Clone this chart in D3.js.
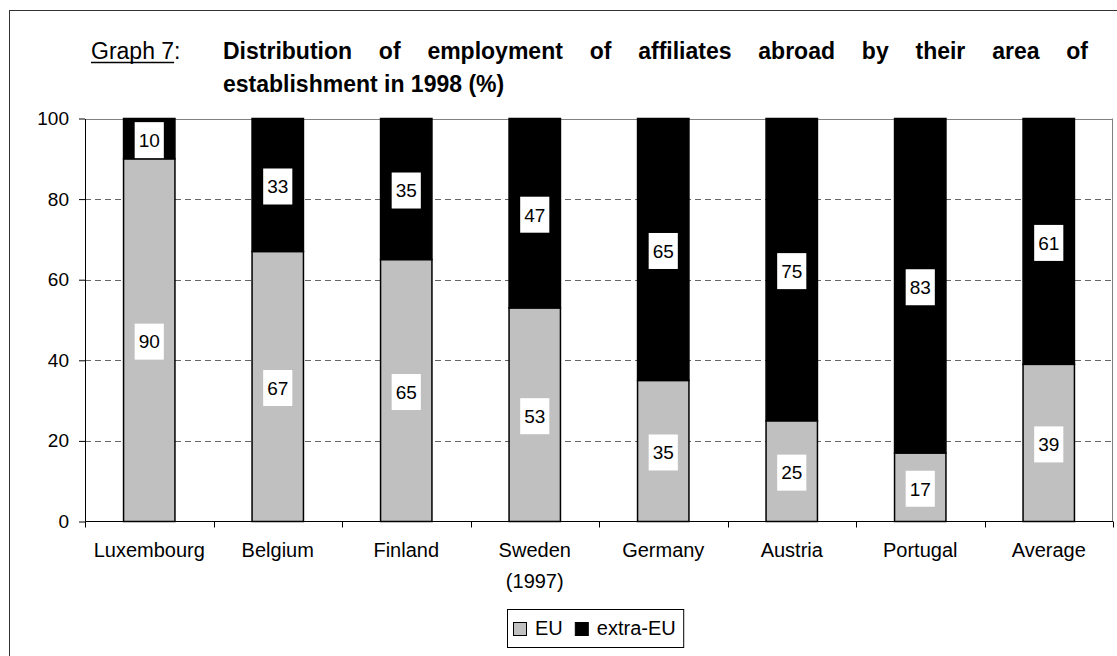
<!DOCTYPE html>
<html>
<head>
<meta charset="utf-8">
<script src="https://cdn.jsdelivr.net/npm/d3@7"></script>
<style>
  body { margin: 0; background: #fff; }
  svg { display: block; font-family: "Liberation Sans", Arial, sans-serif; }
</style>
</head>
<body>
<svg id="chart" width="1117" height="656"></svg>
<script>
// Employment of foreign affiliates by area of establishment, 1998 (%)
const categories = ["Luxembourg", "Belgium", "Finland", "Sweden (1997)", "Germany", "Austria", "Portugal", "Average"];
const euShare = [90, 67, 65, 53, 35, 25, 17, 39];
const extraEuShare = [10, 33, 35, 47, 65, 75, 83, 61];
const yTicks = [0, 20, 40, 60, 80, 100];
const seriesNames = ["EU", "extra-EU"];
const seriesColors = ["#c0c0c0", "#000000"];
const titleLabel = "Graph 7";
const titleLine1 = "Distribution of employment of affiliates abroad by their area of";
const titleLine2 = "establishment in 1998 (%)";

const svg = d3.select("#chart");

// outer frame
svg.append("rect")
  .attr("x", 9.5).attr("y", 10.5)
  .attr("width", 1300).attr("height", 800)
  .attr("fill", "none").attr("stroke", "#333").attr("stroke-width", 1);

const plot = { left: 85, right: 1113, top: 118.5, bottom: 521.5 };

const x = d3.scaleBand()
  .domain(categories)
  .range([plot.left, plot.right])
  .paddingInner(0.6)
  .paddingOuter(0.3);

const y = d3.scaleLinear()
  .domain([0, 100])
  .range([plot.bottom, plot.top]);

// gridlines
svg.append("g")
  .selectAll("line")
  .data(yTicks.filter(t => t > 0))
  .join("line")
  .attr("x1", plot.left).attr("x2", plot.right)
  .attr("y1", d => Math.round(y(d)) + 0.5).attr("y2", d => Math.round(y(d)) + 0.5)
  .attr("stroke", d => d === 100 ? "#808080" : "#666")
  .attr("stroke-width", 1)
  .attr("stroke-dasharray", d => d === 100 ? null : "6,4");

// right border of plot area
svg.append("line")
  .attr("x1", plot.right - 0.5).attr("x2", plot.right - 0.5)
  .attr("y1", y(100)).attr("y2", y(0))
  .attr("stroke", "#808080").attr("stroke-width", 1);

// stacked bars
const rows = categories.map((c, i) => ({ category: c, EU: euShare[i], "extra-EU": extraEuShare[i] }));
const stacked = d3.stack().keys(seriesNames)(rows);

const layers = svg.append("g")
  .selectAll("g")
  .data(stacked)
  .join("g")
  .attr("fill", (d, i) => seriesColors[i]);

layers.selectAll("rect")
  .data(d => d)
  .join("rect")
  .attr("x", d => x(d.data.category))
  .attr("y", d => y(d[1]))
  .attr("width", x.bandwidth())
  .attr("height", d => y(d[0]) - y(d[1]))
  .attr("stroke", "#000")
  .attr("stroke-width", 1.5);

// value labels in white boxes
const labelFont = 19;
const labelGroup = svg.append("g");
stacked.forEach(layer => {
  layer.forEach(d => {
    const value = d[1] - d[0];
    const cx = x(d.data.category) + x.bandwidth() / 2;
    const cy = (y(d[0]) + y(d[1])) / 2 + 1.5;
    const g = labelGroup.append("g");
    const box = g.append("rect").attr("fill", "#fff");
    const t = g.append("text")
      .attr("x", cx).attr("y", cy + labelFont * 0.36)
      .attr("text-anchor", "middle")
      .attr("font-size", labelFont)
      .attr("fill", "#000")
      .text(value);
    const w = t.node().getComputedTextLength() + 8;
    const h = 36;
    box.attr("x", cx - w / 2).attr("y", cy - h / 2).attr("width", w).attr("height", h);
  });
});

// y axis
const yAxis = svg.append("g")
  .attr("transform", `translate(${plot.left},0)`)
  .call(d3.axisLeft(y).tickValues(yTicks).tickSize(6).tickSizeOuter(0).tickPadding(10));
yAxis.select(".domain").attr("stroke", "#000");
yAxis.selectAll(".tick line").attr("stroke", "#000");
yAxis.selectAll("text")
  .attr("font-size", 19).attr("fill", "#000")
  .attr("font-family", "Liberation Sans, Arial, sans-serif");

// x axis line and boundary ticks
svg.append("line")
  .attr("x1", plot.left).attr("x2", plot.right)
  .attr("y1", y(0)).attr("y2", y(0))
  .attr("stroke", "#000").attr("stroke-width", 1);

const boundaries = d3.range(categories.length + 1).map(i => plot.left + i * x.step());
svg.append("g")
  .selectAll("line")
  .data(boundaries)
  .join("line")
  .attr("x1", d => Math.round(d) + 0.5).attr("x2", d => Math.round(d) + 0.5)
  .attr("y1", y(0)).attr("y2", y(0) + 6)
  .attr("stroke", "#000");

// category labels (wrap before the parenthesised year)
const catLabels = svg.append("g")
  .selectAll("text")
  .data(categories)
  .join("text")
  .attr("x", d => x(d) + x.bandwidth() / 2)
  .attr("y", 557)
  .attr("text-anchor", "middle")
  .attr("font-size", 20)
  .attr("fill", "#000");
catLabels.each(function (d) {
  const parts = d.split(" (");
  const el = d3.select(this);
  parts.forEach((p, i) => {
    el.append("tspan")
      .attr("x", x(d) + x.bandwidth() / 2)
      .attr("dy", i === 0 ? 0 : 31)
      .text(i === 0 ? p : "(" + p);
  });
});

// title
const title = svg.append("g");
const labelText = title.append("text")
  .attr("x", 91).attr("y", 59)
  .attr("font-size", 23).attr("fill", "#000")
  .text(titleLabel);
const lw = labelText.node().getComputedTextLength();
title.append("line")
  .attr("x1", 91).attr("x2", 91 + lw)
  .attr("y1", 62.5).attr("y2", 62.5)
  .attr("stroke", "#000").attr("stroke-width", 1.5);
title.append("text")
  .attr("x", 91 + lw).attr("y", 59)
  .attr("font-size", 23).attr("fill", "#000")
  .text(":");

// justified first title line
const words = titleLine1.split(" ");
const lineStart = 223, lineEnd = 1088;
const wordEls = words.map(w => title.append("text")
  .attr("y", 59)
  .attr("font-size", 23).attr("font-weight", "bold").attr("fill", "#000")
  .text(w));
const widths = wordEls.map(e => e.node().getComputedTextLength());
const gap = (lineEnd - lineStart - d3.sum(widths)) / (words.length - 1);
let cursor = lineStart;
wordEls.forEach((e, i) => { e.attr("x", cursor); cursor += widths[i] + gap; });

title.append("text")
  .attr("x", lineStart).attr("y", 92)
  .attr("font-size", 23).attr("font-weight", "bold").attr("fill", "#000")
  .text(titleLine2);

// legend
const legend = svg.append("g");
const legendBox = legend.append("rect")
  .attr("x", 507.5).attr("y", 609.5).attr("height", 38)
  .attr("fill", "#fff").attr("stroke", "#000").attr("stroke-width", 1);
let lx = 513;
seriesNames.forEach((name, i) => {
  legend.append("rect")
    .attr("x", lx + 0.5).attr("y", 622.5).attr("width", 13).attr("height", 13)
    .attr("fill", seriesColors[i]).attr("stroke", "#000").attr("stroke-width", 1);
  const t = legend.append("text")
    .attr("x", lx + 22).attr("y", 635)
    .attr("font-size", 20).attr("fill", "#000")
    .text(name);
  lx = lx + 22 + t.node().getComputedTextLength() + 12;
});
legendBox.attr("width", lx - 507.5 - 4);
</script>
</body>
</html>
